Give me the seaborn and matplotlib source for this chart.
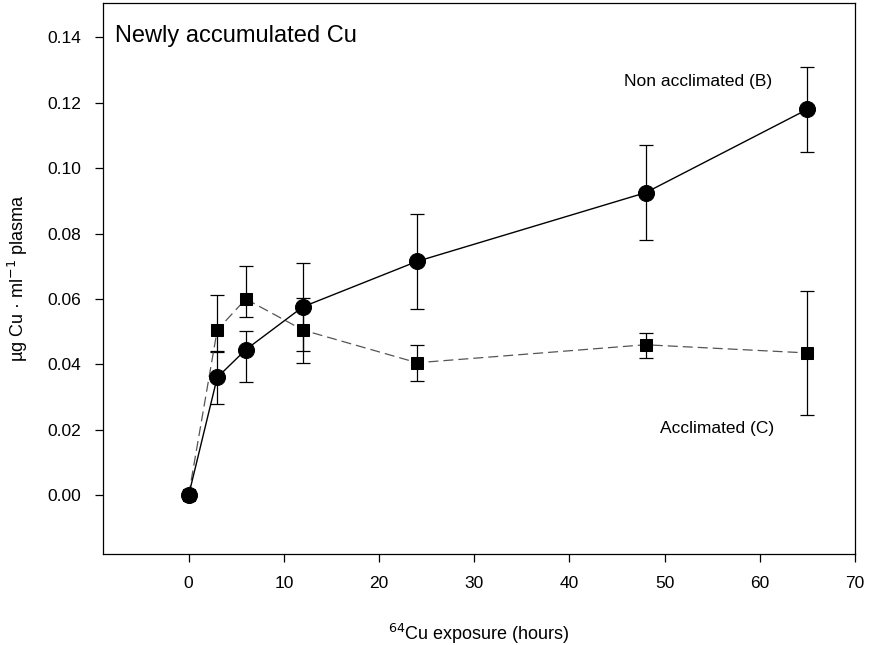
import seaborn as sns
import matplotlib.pyplot as plt
import pandas as pd

# hours of 64Cu exposure
hours = [0, 3, 6, 12, 24, 48, 65]

# Non acclimated (B), circles
non_accl = [0.0, 0.036, 0.0445, 0.0576, 0.0715, 0.0925, 0.118]
non_accl_lo = [0.0, 0.008, 0.0099, 0.0135, 0.0145, 0.0145, 0.013]
non_accl_hi = [0.0, 0.008, 0.0056, 0.0134, 0.0145, 0.0145, 0.013]

# Acclimated (C), squares
accl = [0.0, 0.0505, 0.060, 0.0505, 0.0405, 0.046, 0.0435]
accl_lo = [0.0, 0.0067, 0.0055, 0.0101, 0.0055, 0.004, 0.019]
accl_hi = [0.0, 0.0108, 0.0101, 0.0098, 0.0055, 0.0035, 0.019]

df_b = pd.DataFrame({"hours": hours, "cu": non_accl})
df_c = pd.DataFrame({"hours": hours, "cu": accl})

sns.set_style("ticks")
plt.rcParams['font.family'] = ['Liberation Sans', 'DejaVu Sans']
plt.rcParams['text.color'] = 'black'
plt.rcParams['axes.labelcolor'] = 'black'
plt.rcParams['xtick.color'] = 'black'
plt.rcParams['ytick.color'] = 'black'

fig = plt.figure(figsize=(8.78, 6.45), dpi=100)
ax = fig.add_axes([0.1173, 0.141, 0.8565, 0.8543])

# error bars first so markers sit on top
ax.errorbar(hours, non_accl, yerr=[non_accl_lo, non_accl_hi], fmt='none',
            ecolor='black', elinewidth=0.9, capsize=5, capthick=0.9, zorder=2)
ax.errorbar(hours, accl, yerr=[accl_lo, accl_hi], fmt='none',
            ecolor='black', elinewidth=0.9, capsize=5, capthick=0.9, zorder=2)

sns.lineplot(data=df_c, x="hours", y="cu", ax=ax, color="#555555", lw=0.9,
             marker="s", markersize=9, markerfacecolor="black",
             markeredgecolor="black", dashes=False, zorder=3)
ax.lines[-1].set_dashes([8, 4])
sns.lineplot(data=df_b, x="hours", y="cu", ax=ax, color="black", lw=1.0,
             marker="o", markersize=11.5, markerfacecolor="black",
             markeredgecolor="black", zorder=4)

ax.set_xlim(-9, 70)
ax.set_ylim(-0.018, 0.1505)
ax.set_xticks([0, 10, 20, 30, 40, 50, 60, 70])
ax.set_yticks([0.0, 0.02, 0.04, 0.06, 0.08, 0.10, 0.12, 0.14])
ax.set_yticklabels([f"{v:.2f}" for v in [0.0, 0.02, 0.04, 0.06, 0.08, 0.10, 0.12, 0.14]])
ax.tick_params(axis='both', labelsize=12.5, length=6, width=0.9, pad=10)
ax.tick_params(axis='x', pad=10)
for s in ax.spines.values():
    s.set_linewidth(0.9)
    s.set_color("black")

ax.set_xlabel(r"$^{64}$Cu exposure (hours)", fontsize=13, labelpad=22)
ax.set_ylabel("µg Cu · ml$^{-1}$ plasma", fontsize=13, labelpad=12)

ax.text(-7.7, 0.1405, "Newly accumulated Cu", fontsize=17, va='center', ha='left')
ax.text(53.5, 0.1265, "Non acclimated (B)", fontsize=12.5, ha='center', va='center')
ax.text(55.5, 0.0205, "Acclimated (C)", fontsize=12.5, ha='center', va='center')

fig.savefig("out.png", dpi=100)
